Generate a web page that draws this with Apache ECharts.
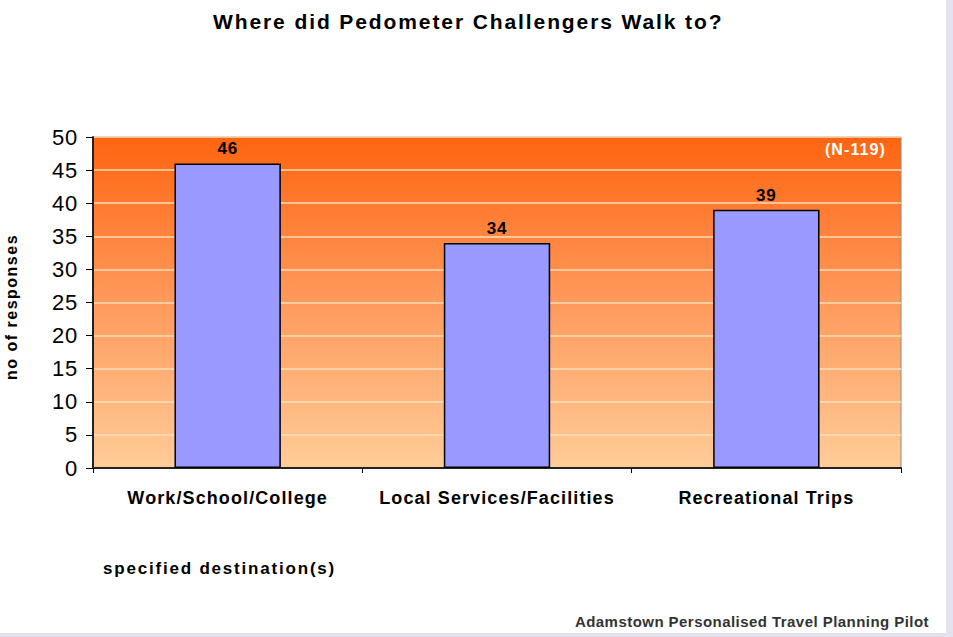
<!DOCTYPE html>
<html>
<head>
<meta charset="utf-8">
<script src="https://cdn.jsdelivr.net/npm/echarts@6/dist/echarts.min.js"></script>
<style>
  html, body { margin: 0; padding: 0; background: #fff; }
  #myChart { width: 953px; height: 637px; }
</style>
</head>
<body>
<div id="myChart"></div>
<script>
var destinations = ['Work/School/College', 'Local Services/Facilities', 'Recreational Trips'];
var responses = [46, 34, 39];
var yMin = 0, yMax = 50, yStep = 5;

var FONT = 'Liberation Sans, Arial, sans-serif';
var myChart = echarts.init(document.getElementById('myChart'), null, { renderer: 'svg' });
var option = {
  backgroundColor: '#fff',
  animation: false,
  textStyle: { fontFamily: FONT },
  title: {
    text: 'Where did Pedometer Challengers Walk to?',
    left: 208,
    top: 6,
    textStyle: { fontSize: 21, fontWeight: 'bold', color: '#000' }
  },
  grid: {
    left: 93, right: 52, top: 137, bottom: 169,
    show: true,
    borderColor: '#888',
    borderWidth: 1,
    backgroundColor: {
      type: 'linear', x: 0, y: 0, x2: 0, y2: 1,
      colorStops: [
        { offset: 0, color: '#ff6410' },
        { offset: 0.5, color: '#ff9a5c' },
        { offset: 1, color: '#ffcc98' }
      ]
    }
  },
  xAxis: {
    type: 'category',
    data: destinations,
    axisLine: { lineStyle: { color: '#222', width: 2 } },
    axisTick: { show: true, length: 5, lineStyle: { color: '#000' } },
    axisLabel: { interval: 0, hideOverlap: false, margin: 21, fontSize: 18, fontWeight: 'bold', color: '#000' }
  },
  yAxis: {
    type: 'value',
    min: yMin, max: yMax, interval: yStep,
    axisLine: { show: true, lineStyle: { color: '#222', width: 2 } },
    axisTick: { show: true, length: 7, lineStyle: { color: '#000' } },
    axisLabel: { margin: 15, fontSize: 22, color: '#000' },
    splitLine: { lineStyle: { color: 'rgba(255,225,190,0.7)', width: 2 } }
  },
  series: [{
    type: 'bar',
    data: responses,
    barWidth: '39.5%',
    itemStyle: { color: '#9999ff', borderColor: '#000', borderWidth: 1.5 },
    label: {
      show: true, position: 'top', distance: 6,
      fontSize: 17, fontWeight: 'bold', color: '#000'
    }
  }],
  graphic: [
    { type: 'rect', shape: { x: 946, y: 0, width: 7, height: 637 }, style: { fill: '#e4e2ee' } },
    { type: 'rect', shape: { x: 0, y: 633, width: 953, height: 4 }, style: { fill: '#e4e2ee' } },
    { type: 'text', x: 886, y: 149, style: { text: '(N-119)', fill: '#fff', font: 'bold 16px ' + FONT, textAlign: 'right', textVerticalAlign: 'middle' } },
    { type: 'text', x: 11, y: 307, rotation: Math.PI / 2, style: { text: 'no of responses', fill: '#000', font: 'bold 16px ' + FONT, textAlign: 'center', textVerticalAlign: 'middle' } },
    { type: 'text', x: 103, y: 568, style: { text: 'specified destination(s)', fill: '#000', font: 'bold 17px ' + FONT, textAlign: 'left', textVerticalAlign: 'middle' } },
    { type: 'text', x: 929, y: 621, style: { text: 'Adamstown Personalised Travel Planning Pilot', fill: '#333', font: 'bold 15px ' + FONT, textAlign: 'right', textVerticalAlign: 'middle' } }
  ]
};
myChart.setOption(option);

// the original is typeset with wider letter spacing than Arial gives
var spacing = {
  'Where did Pedometer Challengers Walk to?': 1.9,
  'specified destination(s)': 1.8,
  'no of responses': 1.5,
  'Adamstown Personalised Travel Planning Pilot': 0.45,
  '(N-119)': 1.1
};
function spaceText() {
  var texts = document.querySelectorAll('#myChart svg text');
  texts.forEach(function (t) {
    var s = t.textContent;
    var v = spacing[s];
    if (v === undefined) {
      if (destinations.indexOf(s) >= 0) v = 1.1;
      else if (/^\d+$/.test(s)) v = 0.8;
      else v = 0;
    }
    t.style.letterSpacing = v + 'px';
  });
}
spaceText();
myChart.on('finished', spaceText);
setTimeout(spaceText, 50);
</script>
</body>
</html>
